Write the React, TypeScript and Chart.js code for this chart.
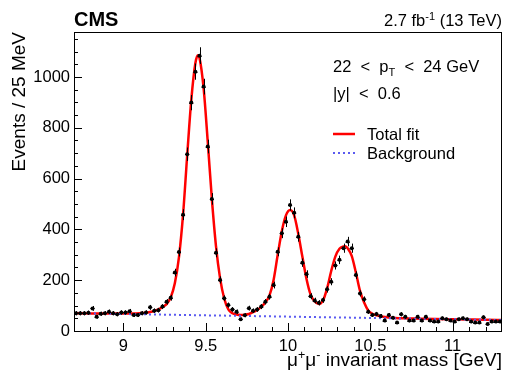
import React, { useEffect, useRef } from 'react';
import { Chart, registerables } from 'chart.js';

Chart.register(...registerables);

// ---- data ----
const massLow = 8.7;
const binWidth = 0.025;

// Events per 25 MeV bin, from 8.7 to 11.3 GeV (104 bins)
const counts = [
  70, 70, 70, 72, 89, 56, 68, 70, 76, 70,
  66, 73, 73, 78, 63, 63, 70, 73, 93, 80,
  82, 96, 115, 131, 230, 311, 458, 696, 899, 1021,
  1084, 962, 726, 520, 308, 201, 129, 102, 85, 76,
  46, 62, 90, 80, 85, 96, 115, 135, 181, 312,
  385, 430, 496, 465, 371, 269, 224, 137, 120, 111,
  122, 164, 194, 258, 280, 326, 352, 326, 220, 148,
  125, 76, 63, 67, 59, 41, 63, 52, 33, 66,
  56, 41, 41, 56, 41, 56, 41, 37, 37, 50,
  46, 41, 37, 46, 50, 46, 37, 33, 33, 54,
  28, 37, 37, 37,
];

// total fit curve
const fitMass = [
  8.7, 8.8, 8.9, 9.0, 9.05, 9.1, 9.1375, 9.1625, 9.1875, 9.2125,
  9.2375, 9.2625, 9.2875, 9.3125, 9.3375, 9.3625, 9.3875, 9.4125, 9.4375, 9.453,
  9.4625, 9.4875, 9.5125, 9.5375, 9.5625, 9.5875, 9.6125, 9.6375, 9.6625, 9.6875,
  9.7125, 9.7375, 9.7625, 9.7875, 9.8125, 9.8375, 9.8625, 9.8875, 9.9125, 9.9375,
  9.9625, 9.9875, 10.0125, 10.0375, 10.0625, 10.0875, 10.1125, 10.1375, 10.1625, 10.1875,
  10.2125, 10.2375, 10.2625, 10.2875, 10.3125, 10.3375, 10.348, 10.3625, 10.3875, 10.4125,
  10.4375, 10.4625, 10.4875, 10.5125, 10.5375, 10.5625, 10.6, 10.65, 10.7, 10.8,
  10.9, 11.0, 11.1, 11.2, 11.3,
];
const fitValue = [
  70.0, 69.3, 68.8, 68.7, 69.0, 70.2, 72, 75, 79, 85,
  94, 106, 132, 188, 290, 458, 690, 910, 1055, 1085,
  1075, 955, 745, 520, 334, 207, 128, 85, 70, 65,
  63, 64, 67, 74, 83, 95, 112, 140, 201, 300,
  393, 455, 476, 455, 382, 292, 205, 143, 116, 106,
  120, 168, 236, 293, 324, 333, 334, 326, 295, 230,
  158, 112, 81, 68, 62, 58, 54.5, 51.5, 49.9, 48.5,
  47.3, 46.2, 45.1, 44.0, 43.0,
];

// background component
const bkgMass = [8.7, 11.3];
const bkgValue = [70, 43];

const xMajorTicks = [9, 9.5, 10, 10.5, 11];
const yMajorTicks = [0, 200, 400, 600, 800, 1000];
const xMin = 8.7;
const xMax = 11.3;
const yMin = 0;
const yMax = 1177;

const FONT = '"Liberation Sans", Arial, Helvetica, sans-serif';
const RED = '#ff0000';
const BLUE = '#5a5af0';

function drawRich(ctx: CanvasRenderingContext2D, parts: { t: string; size: number; dy?: number; bold?: boolean }[], x: number, y: number, align: 'left' | 'right') {
  let total = 0;
  const widths = parts.map((p) => {
    ctx.font = `${p.bold ? 'bold ' : ''}${p.size}px ${FONT}`;
    const w = ctx.measureText(p.t).width;
    total += w;
    return w;
  });
  let cx = align === 'left' ? x : x - total;
  parts.forEach((p, i) => {
    ctx.font = `${p.bold ? 'bold ' : ''}${p.size}px ${FONT}`;
    ctx.textAlign = 'left';
    ctx.textBaseline = 'alphabetic';
    ctx.fillText(p.t, cx, y + (p.dy || 0));
    cx += widths[i];
  });
}

const decorations = {
  id: 'decorations',
  afterDatasetsDraw(chart: any) {
    const { ctx, scales } = chart;
    const xs = scales.x;
    const ys = scales.y;
    ctx.save();
    ctx.strokeStyle = '#000';
    ctx.lineWidth = 1;
    counts.forEach((v, i) => {
      const c = massLow + binWidth * (i + 0.5);
      const e = Math.sqrt(v);
      const px = Math.round(xs.getPixelForValue(c)) + 0.5;
      const py = ys.getPixelForValue(v);
      ctx.beginPath();
      ctx.moveTo(px, ys.getPixelForValue(v - e));
      ctx.lineTo(px, ys.getPixelForValue(v + e));
      ctx.moveTo(xs.getPixelForValue(c - binWidth / 2), Math.round(py) + 0.5);
      ctx.lineTo(xs.getPixelForValue(c + binWidth / 2), Math.round(py) + 0.5);
      ctx.stroke();
    });
    ctx.restore();
  },
  afterDraw(chart: any) {
    const { ctx, chartArea: a, scales } = chart;
    const xs = scales.x;
    const ys = scales.y;
    ctx.save();
    ctx.fillStyle = '#000';
    ctx.strokeStyle = '#000';
    ctx.lineWidth = 1;
    // frame
    ctx.strokeRect(Math.round(a.left) + 0.5, Math.round(a.top) + 0.5, Math.round(a.right - a.left) - 1, Math.round(a.bottom - a.top));
    // x ticks
    ctx.beginPath();
    for (let k = 88; k <= 112; k++) {
      const v = k / 10;
      const major = k % 5 === 0;
      const px = Math.round(xs.getPixelForValue(v)) + 0.5;
      ctx.moveTo(px, a.bottom);
      ctx.lineTo(px, a.bottom - (major ? 8 : 4));
    }
    // y ticks
    for (let v = 0; v <= 1150; v += 50) {
      const major = v % 200 === 0;
      const py = Math.round(ys.getPixelForValue(v)) + 0.5;
      ctx.moveTo(a.left, py);
      ctx.lineTo(a.left + (major ? 8 : 4), py);
    }
    ctx.stroke();

    // titles
    drawRich(ctx, [{ t: 'CMS', size: 20, bold: true }], 74, 26, 'left');
    drawRich(ctx, [
      { t: '2.7 fb', size: 16.5 },
      { t: '-1', size: 11, dy: -6 },
      { t: ' (13 TeV)', size: 16.5 },
    ], 502, 26, 'right');

    drawRich(ctx, [
      { t: 'μ', size: 19 },
      { t: '+', size: 12.5, dy: -7 },
      { t: 'μ', size: 19 },
      { t: '-', size: 12.5, dy: -7 },
      { t: ' invariant mass [GeV]', size: 19 },
    ], 502, 366, 'right');

    ctx.save();
    ctx.translate(25, 32);
    ctx.rotate(-Math.PI / 2);
    ctx.font = `19px ${FONT}`;
    ctx.textAlign = 'right';
    ctx.textBaseline = 'alphabetic';
    ctx.fillText('Events / 25 MeV', 0, 0);
    ctx.restore();

    // kinematic selection
    drawRich(ctx, [
      { t: '22  <  p', size: 16.5 },
      { t: 'T', size: 11, dy: 4 },
      { t: '  <  24 GeV', size: 16.5 },
    ], 333, 72, 'left');
    drawRich(ctx, [{ t: '|y|  <  0.6', size: 16.5 }], 333, 99, 'left');

    // legend
    ctx.strokeStyle = RED;
    ctx.lineWidth = 2.5;
    ctx.beginPath();
    ctx.moveTo(333, 134);
    ctx.lineTo(355, 134);
    ctx.stroke();
    ctx.strokeStyle = BLUE;
    ctx.lineWidth = 2;
    ctx.setLineDash([2, 3]);
    ctx.beginPath();
    ctx.moveTo(333, 153);
    ctx.lineTo(355, 153);
    ctx.stroke();
    ctx.setLineDash([]);
    ctx.fillStyle = '#000';
    drawRich(ctx, [{ t: 'Total fit', size: 16.5 }], 367, 140, 'left');
    drawRich(ctx, [{ t: 'Background', size: 16.5 }], 367, 159, 'left');
    ctx.restore();
  },
};

export default function App() {
  const ref = useRef<HTMLCanvasElement>(null);
  useEffect(() => {
    document.body.style.margin = '0';
    const canvas = ref.current!;
    const binCenters = counts.map((_, i) => massLow + binWidth * (i + 0.5));
    const chart = new Chart(canvas, {
      type: 'scatter',
      data: {
        datasets: [
          {
            type: 'scatter',
            label: 'Data',
            data: binCenters.map((x, i) => ({ x, y: counts[i] })),
            pointRadius: 2,
            pointBackgroundColor: '#000',
            pointBorderWidth: 0,
            order: 0,
          } as any,
          {
            type: 'line',
            label: 'Background',
            data: bkgMass.map((x, i) => ({ x, y: bkgValue[i] })),
            borderColor: BLUE,
            borderWidth: 2,
            borderDash: [2, 3],
            pointRadius: 0,
            fill: false,
            order: 1,
          },
          {
            type: 'line',
            label: 'Total fit',
            data: fitMass.map((x, i) => ({ x, y: fitValue[i] })),
            borderColor: RED,
            borderWidth: 2.5,
            pointRadius: 0,
            fill: false,
            cubicInterpolationMode: 'monotone',
            order: 2,
          },
        ],
      },
      options: {
        animation: false,
        responsive: false,
        maintainAspectRatio: false,
        events: [],
        layout: { padding: { top: 32, right: 5, left: 0, bottom: 0 } },
        plugins: { legend: { display: false }, tooltip: { enabled: false } },
        scales: {
          x: {
            type: 'linear',
            min: xMin,
            max: xMax,
            grid: { display: false, drawTicks: false },
            border: { display: false },
            afterBuildTicks: (s: any) => {
              s.ticks = xMajorTicks.map((v) => ({ value: v }));
            },
            afterFit: (s: any) => {
              s.height = 48;
            },
            ticks: {
              color: '#000',
              padding: 6,
              maxRotation: 0,
              autoSkip: false,
              font: { family: FONT, size: 16.5 },
              callback: (v: any) => String(v),
            },
          },
          y: {
            type: 'linear',
            min: yMin,
            max: yMax,
            grid: { display: false, drawTicks: false },
            border: { display: false },
            afterBuildTicks: (s: any) => {
              s.ticks = yMajorTicks.map((v) => ({ value: v }));
            },
            afterFit: (s: any) => {
              s.width = 74;
            },
            ticks: {
              color: '#000',
              padding: 4,
              autoSkip: false,
              font: { family: FONT, size: 16.5 },
              callback: (v: any) => String(v),
            },
          },
        },
      },
      plugins: [decorations],
    });
    return () => chart.destroy();
  }, []);
  return (
    <div style={{ width: 507, height: 379, position: 'relative', background: '#fff' }}>
      <canvas ref={ref} width={507} height={379} style={{ display: 'block' }} />
    </div>
  );
}
